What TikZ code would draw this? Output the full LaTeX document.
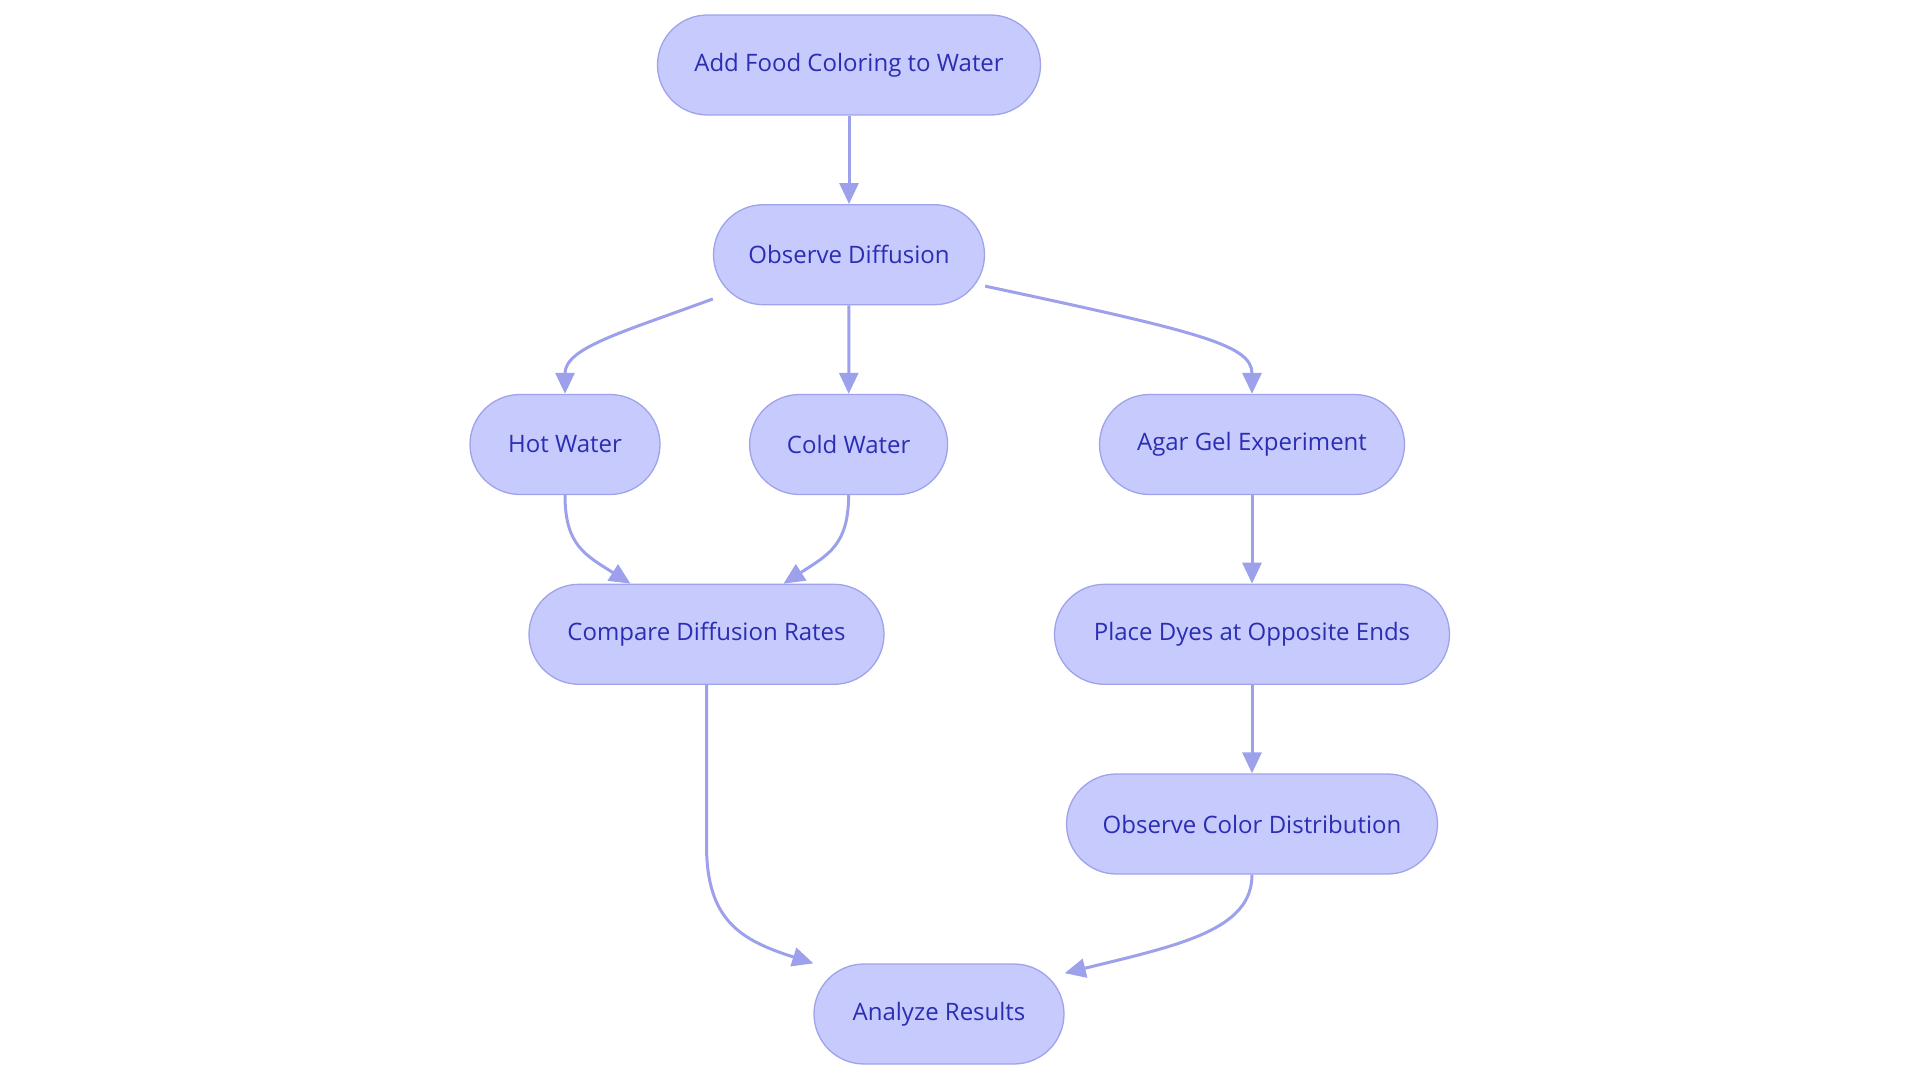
\documentclass[tikz,border=0pt]{standalone}
\usepackage{fontspec}
\setmainfont{Open Sans}
\usetikzlibrary{arrows.meta,calc}
\definecolor{nodefill}{HTML}{C7CAFD}
\definecolor{nodeedge}{HTML}{9FA3EA}
\definecolor{nodetext}{HTML}{2B2DB3}
\definecolor{edgecol}{HTML}{9DA1EB}
\tikzset{
  box/.style={draw=nodeedge, line width=1.3pt, fill=nodefill, rounded corners=50pt,
    minimum height=100pt, inner sep=0pt, text=nodetext, font=\fontsize{24pt}{28pt}\selectfont},
  flow/.style={draw=edgecol, line width=3pt, -{Triangle[length=21pt,width=19pt]}},
}
\begin{document}
\begin{tikzpicture}[x=1pt,y=-1pt]
\useasboundingbox (0,0) rectangle (1920,1083);
\node[box, minimum width=383pt] (add) at (849,65) {Add Food Coloring to Water};
\node[box, minimum width=271pt] (obs) at (849,254.7) {Observe Diffusion};
\node[box, minimum width=190pt] (hot) at (565,444.5) {Hot Water};
\node[box, minimum width=198pt] (cold) at (848.6,444.5) {Cold Water};
\node[box, minimum width=305pt] (agar) at (1252,444.5) {Agar Gel Experiment};
\node[box, minimum width=355pt] (cmp) at (706.5,634.3) {Compare Diffusion Rates};
\node[box, minimum width=395pt] (place) at (1252,634.3) {Place Dyes at Opposite Ends};
\node[box, minimum width=371pt] (col) at (1252,824) {Observe Color Distribution};
\node[box, minimum width=250pt] (ana) at (939,1014) {Analyze Results};

\draw[flow] (add) -- (obs);
\draw[flow] (obs) -- (cold);
\draw[flow] (agar) -- (place);
\draw[flow] (place) -- (col);
\draw[flow] (obs.198) .. controls (620,333) and (565,348) .. (hot.north);
\draw[flow] (obs.-13) .. controls (1200,332) and (1252,345) .. (agar.north);
\draw[flow] (hot.south) .. controls (565,545) and (585,555) .. ($(cmp.north)+(-76,0)$);
\draw[flow] (cold.south) .. controls (848.6,545) and (828,555) .. ($(cmp.north)+(77,0)$);
\draw[flow] (cmp.south) -- (706.5,845) .. controls (706.5,920) and (740,940) .. (ana.north west);
\draw[flow] (col.south) .. controls (1252,930) and (1180,945) .. (ana.18);
\end{tikzpicture}
\end{document}
